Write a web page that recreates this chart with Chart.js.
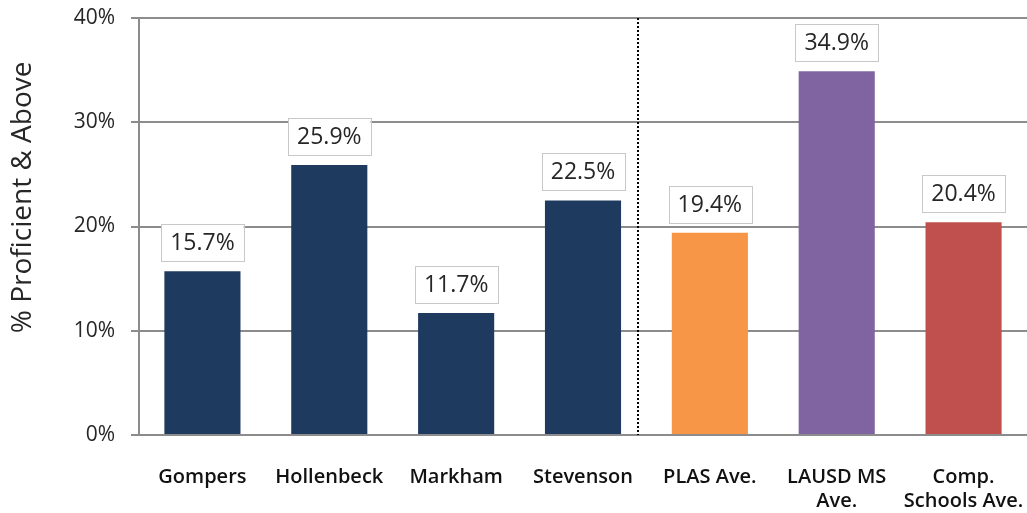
<!DOCTYPE html>
<html>
<head>
<meta charset="utf-8">
<script src="https://cdn.jsdelivr.net/npm/chart.js@4"></script>
<style>
  html, body { margin: 0; padding: 0; background: #fff; }
  #wrap { width: 1027px; height: 513px; }
</style>
</head>
<body>
<div id="wrap"><canvas id="myChart" width="1027" height="513"></canvas></div>
<script>
  // datos
  const categorias = ['Gompers', 'Hollenbeck', 'Markham', 'Stevenson', 'PLAS Ave.', ['LAUSD MS', 'Ave.'], ['Comp.', 'Schools Ave.']];
  const porcentajes = [15.7, 25.9, 11.7, 22.5, 19.4, 34.9, 20.4];
  const coloresBarras = ['#1F3A5F', '#1F3A5F', '#1F3A5F', '#1F3A5F', '#F79646', '#8064A2', '#C0504D'];
  const ticksY = [0, 10, 20, 30, 40];

  const colorGrid = '#8c8c8c';

  // etiquetas con caja encima de cada barra
  const etiquetasPlugin = {
    id: 'etiquetas',
    afterDatasetsDraw(chart) {
      const ctx = chart.ctx;
      const meta = chart.getDatasetMeta(0);
      ctx.save();
      ctx.font = '23px "Open Sans"';
      ctx.textAlign = 'center';
      ctx.textBaseline = 'middle';
      meta.data.forEach((bar, i) => {
        const texto = porcentajes[i].toFixed(1) + '%';
        const w = ctx.measureText(texto).width + 18;
        const h = 37;
        const x = bar.x - w / 2;
        const y = bar.y - 10 - h;
        ctx.fillStyle = '#ffffff';
        ctx.fillRect(x, y, w, h);
        ctx.strokeStyle = '#c8c8c8';
        ctx.lineWidth = 1;
        ctx.strokeRect(Math.round(x) + 0.5, Math.round(y) + 0.5, Math.round(w), Math.round(h));
        ctx.fillStyle = '#262626';
        ctx.fillText(texto, bar.x, y + h / 2 + 1);
      });
      ctx.restore();
    }
  };

  // linea punteada que separa escuelas de promedios
  const separadorPlugin = {
    id: 'separador',
    afterDraw(chart) {
      const ctx = chart.ctx;
      const xs = chart.scales.x;
      const area = chart.chartArea;
      const xp = Math.round(xs.getPixelForValue(3.5) - 8);
      ctx.save();
      ctx.strokeStyle = '#000';
      ctx.lineWidth = 2;
      ctx.setLineDash([2, 2]);
      ctx.beginPath();
      ctx.moveTo(xp, area.top);
      ctx.lineTo(xp, area.bottom);
      ctx.stroke();
      ctx.restore();
    }
  };

  const ctx = document.getElementById('myChart');
  new Chart(ctx, {
    type: 'bar',
    data: {
      labels: categorias,
      datasets: [{
        data: porcentajes,
        backgroundColor: coloresBarras,
        borderWidth: 0,
        barPercentage: 0.6,
        categoryPercentage: 1.0
      }]
    },
    options: {
      responsive: false,
      animation: false,
      layout: { padding: { top: 18, right: 0, bottom: 0, left: 0 } },
      plugins: {
        legend: { display: false },
        tooltip: { enabled: false }
      },
      scales: {
        y: {
          min: 0,
          max: 40,
          afterBuildTicks: (scale) => { scale.ticks = ticksY.map(v => ({ value: v })); },
          afterFit: (scale) => { scale.width = 139; scale.paddingTop = 0; scale.paddingBottom = 0; },
          border: { color: colorGrid, width: 2 },
          grid: { color: colorGrid, lineWidth: 2, tickLength: 8, drawTicks: true },
          ticks: {
            padding: 16,
            color: '#262626',
            font: { family: 'Open Sans', size: 21 },
            callback: (v) => v + '%'
          },
          title: {
            display: true,
            // espacios al inicio para subir el titulo como en el original
            text: '        % Proficient & Above',
            color: '#262626',
            font: { family: 'Open Sans', size: 28 },
            padding: { top: 6, bottom: 0 }
          }
        },
        x: {
          afterFit: (scale) => { scale.height = 78; scale.paddingLeft = 0; scale.paddingRight = 0; },
          border: { color: colorGrid, width: 2 },
          grid: { display: false },
          ticks: {
            padding: 22,
            color: '#111',
            maxRotation: 0,
            autoSkip: false,
            font: { family: 'Open Sans', size: 20, weight: '600', lineHeight: 1.2 }
          }
        }
      }
    },
    plugins: [etiquetasPlugin, separadorPlugin]
  });
</script>
</body>
</html>
